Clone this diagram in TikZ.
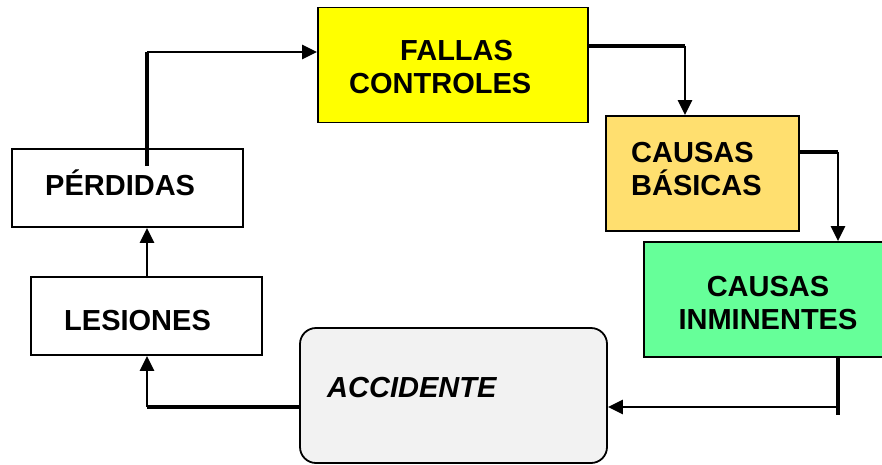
\documentclass[tikz,border=0pt]{standalone}
\usepackage{fontspec}
\setmainfont{Liberation Sans}
\usetikzlibrary{arrows.meta}

\definecolor{amarillo}{HTML}{FFFF00}
\definecolor{dorado}{HTML}{FFDF6F}
\definecolor{verde}{HTML}{66FF99}
\definecolor{gris}{HTML}{F2F2F2}

\begin{document}
\begin{tikzpicture}[x=1pt, y=-1pt,
every node/.style={inner sep=0pt},
caja/.style={draw, line width=1.8pt},
txt/.style={anchor=base west, font=\fontsize{29}{33}\selectfont\bfseries},
linea/.style={line width=4.5pt},
flecha/.style={line width=2.4pt, -{Triangle[length=15pt,width=14pt]}}
]
\useasboundingbox (0,0) rectangle (882,464);

\node[caja, minimum width=231, minimum height=78] (perdidas) at (127.5,188) {};
\node[caja, fill=amarillo, minimum width=270, minimum height=115] (fallas) at (453,65) {};
\node[caja, fill=dorado, minimum width=193, minimum height=115] (basicas) at (702.5,173.5) {};
\node[caja, fill=verde, minimum width=251, minimum height=115] (inminentes) at (769.5,299.5) {};
\node[caja, fill=gris, rounded corners=16pt, minimum width=307, minimum height=135] (accidente) at (453.5,395.5) {};
\node[caja, minimum width=231, minimum height=78] (lesiones) at (146.5,316) {};

\node[txt] (t-perdidas) at (45,195) {PÉRDIDAS};
\node[txt, align=left] (t-fallas) at (349,93) {\hspace*{51pt}FALLAS\\CONTROLES};
\node[txt, align=left] (t-basicas) at (631,195) {CAUSAS\\BÁSICAS};
\node[txt, align=center, anchor=base] (t-inminentes) at (768,329) {CAUSAS\\INMINENTES};
\node[txt, font=\fontsize{29}{33}\selectfont\bfseries\itshape] (t-accidente) at (327,397) {ACCIDENTE};
\node[txt] (t-lesiones) at (64,330) {LESIONES};

\coordinate (c0) at (147,166);
\coordinate (c1) at (147,52);
\coordinate (c2) at (685,46);
\coordinate (c3) at (838,152);
\coordinate (c4) at (838,415);
\coordinate (c5) at (838,407);
\coordinate (c6) at (147,407);

\draw[linea] (c0) -- (c1);
\draw[flecha] (c1) -- (fallas.west |- c1);
\draw[linea] (fallas.east |- c2) -- (c2);
\draw[flecha] (c2) -- (basicas.north -| c2);
\draw[linea] (basicas.east |- c3) -- (c3);
\draw[flecha] (c3) -- (inminentes.north -| c3);
\draw[linea] (inminentes.south -| c4) -- (c4);
\draw[flecha] (c5) -- (accidente.east |- c5);
\draw[linea] (accidente.west |- c6) -- (c6);
\draw[flecha] (c6) -- (lesiones.south -| c6);
\draw[flecha] (lesiones.north -| c6) -- (perdidas.south -| c6);
\end{tikzpicture}
\end{document}
